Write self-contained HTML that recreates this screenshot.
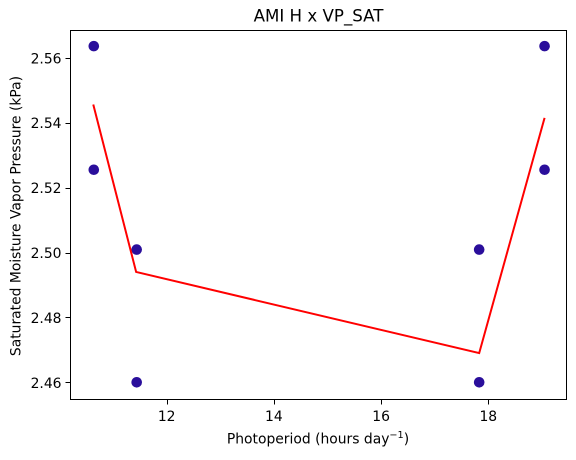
<!DOCTYPE html>
<html>
<head>
<meta charset="utf-8">
<title>AMI H x VP_SAT</title>
<style>
html,body{margin:0;padding:0;background:#fff;width:576px;height:460px;overflow:hidden}
svg{display:block}
text{font-family:"DejaVu Sans","Liberation Sans",sans-serif;fill:#000}
</style>
</head>
<body>
<svg id="chart" width="576" height="460" viewBox="0 0 576 460" xmlns="http://www.w3.org/2000/svg">
<rect x="0" y="0" width="576" height="460" fill="#fff"/>
<g id="marks"></g>
<g id="axes"></g>
<rect x="70.5" y="30.5" width="496" height="369" fill="none" stroke="#000" stroke-width="1"/>
<text x="318.5" y="21.5" font-size="16.67" text-anchor="middle">AMI H x VP_SAT</text>
<text x="318" y="443.6" font-size="13.89" text-anchor="middle">Photoperiod (hours day<tspan dy="-5.5" font-size="9.7">−1</tspan><tspan dy="5.5">)</tspan></text>
<text transform="translate(20.5 216) rotate(-90)" font-size="13.89" text-anchor="middle">Saturated Moisture Vapor Pressure (kPa)</text>
</svg>
<script>
var pointX = [10.64, 10.64, 11.44, 11.44, 17.83, 17.83, 19.05, 19.05];
var pointY = [2.5636, 2.5255, 2.5009, 2.46, 2.5009, 2.46, 2.5636, 2.5255];
var lineX = [10.63, 11.43, 17.83, 19.05];
var lineY = [2.5456, 2.494, 2.469, 2.5415];
var xTicks = [12, 14, 16, 18];
var xTickLabels = ['12', '14', '16', '18'];
var yTicks = [2.46, 2.48, 2.50, 2.52, 2.54, 2.56];
var yTickLabels = ['2.46', '2.48', '2.50', '2.52', '2.54', '2.56'];

var NS = 'http://www.w3.org/2000/svg';
function sx(v) { return 166.7 + (v - 12) * 53.6; }
function sy(v) { return 57.8 + (2.56 - v) * 3245; }
function make(tag, attrs) {
  var el = document.createElementNS(NS, tag);
  for (var k in attrs) el.setAttribute(k, attrs[k]);
  return el;
}
var marks = document.getElementById('marks');
var axes = document.getElementById('axes');

pointX.forEach(function (x, i) {
  var c = make('circle', { cx: sx(x), cy: sy(pointY[i]), r: 5.3, fill: '#2a0e9b' });
  
  
  marks.appendChild(c);
});

var pts = lineX.map(function (x, i) { return sx(x) + ',' + sy(lineY[i]); }).join(' ');
var line = make('polyline', { points: pts, fill: 'none', stroke: '#ff0000', 'stroke-width': 2, 'stroke-linejoin': 'miter' });


marks.appendChild(line);

xTicks.forEach(function (t, i) {
  var px = Math.round(sx(t)) + 0.5;
  var tick = make('line', { x1: px, x2: px, y1: 400, y2: 404.5, stroke: '#000', 'stroke-width': 1 });
  
  
  axes.appendChild(tick);
  var label = make('text', { x: sx(t), y: 421, 'font-size': 13.9, 'text-anchor': 'middle' });
  
  
  label.textContent = xTickLabels[i];
  axes.appendChild(label);
});

yTicks.forEach(function (t, i) {
  var py = Math.round(sy(t)) + 0.5;
  var tick = make('line', { x1: 65.5, x2: 70, y1: py, y2: py, stroke: '#000', 'stroke-width': 1 });
  
  
  axes.appendChild(tick);
  var label = make('text', { x: 61.5, y: sy(t) + 5.5, 'font-size': 13.9, 'text-anchor': 'end' });
  
  
  label.textContent = yTickLabels[i];
  axes.appendChild(label);
});
</script>
</body>
</html>
